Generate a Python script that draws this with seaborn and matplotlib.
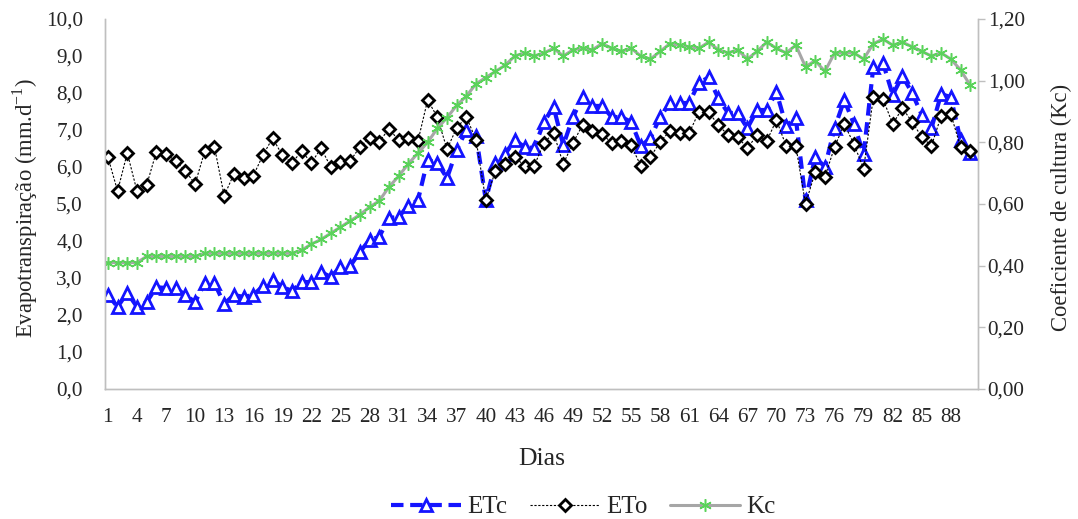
import numpy as np
import pandas as pd
import matplotlib
matplotlib.use("Agg")
import matplotlib.pyplot as plt
import seaborn as sns
from matplotlib.ticker import FuncFormatter

# daily values
dias = list(range(1, 91))

eto = [6.27, 5.35, 6.38, 5.35, 5.51, 6.41, 6.35, 6.16, 5.89, 5.54,
       6.43, 6.54, 5.22, 5.81, 5.70, 5.76, 6.32, 6.78, 6.32, 6.11,
       6.43, 6.11, 6.51, 6.00, 6.14, 6.16, 6.54, 6.78, 6.68, 7.03,
       6.73, 6.78, 6.70, 7.81, 7.35, 6.48, 7.06, 7.35, 6.73, 5.11,
       5.89, 6.08, 6.27, 6.03, 6.03, 6.65, 6.92, 6.08, 6.65, 7.14,
       6.97, 6.89, 6.65, 6.70, 6.59, 6.03, 6.27, 6.68, 6.97, 6.92,
       6.92, 7.49, 7.48, 7.14, 6.86, 6.81, 6.51, 6.86, 6.70, 7.27,
       6.57, 6.57, 5.00, 5.86, 5.73, 6.54, 7.16, 6.62, 5.95, 7.89,
       7.84, 7.16, 7.59, 7.22, 6.81, 6.57, 7.38, 7.43, 6.54, 6.43]

etc = [2.54, 2.22, 2.60, 2.22, 2.35, 2.75, 2.73, 2.73, 2.54, 2.35,
       2.86, 2.86, 2.30, 2.54, 2.49, 2.54, 2.78, 2.95, 2.76, 2.65,
       2.89, 2.89, 3.16, 3.03, 3.30, 3.32, 3.70, 4.03, 4.11, 4.62,
       4.65, 4.95, 5.10, 6.19, 6.11, 5.70, 6.46, 7.00, 6.85, 5.11,
       6.10, 6.35, 6.73, 6.54, 6.51, 7.22, 7.62, 6.59, 7.35, 7.89,
       7.65, 7.65, 7.35, 7.35, 7.22, 6.57, 6.78, 7.35, 7.73, 7.73,
       7.73, 8.28, 8.42, 7.86, 7.46, 7.46, 7.05, 7.54, 7.54, 8.03,
       7.11, 7.32, 5.10, 6.27, 6.00, 7.05, 7.81, 7.16, 6.35, 8.70,
       8.81, 7.95, 8.46, 8.00, 7.41, 7.05, 7.97, 7.89, 6.73, 6.38]

kc = [0.41, 0.41, 0.41, 0.41, 0.43, 0.43, 0.43, 0.43, 0.43, 0.43,
      0.44, 0.44, 0.44, 0.44, 0.44, 0.44, 0.44, 0.44, 0.44, 0.44,
      0.45, 0.47, 0.485, 0.505, 0.525, 0.545, 0.565, 0.59, 0.61, 0.655,
      0.69, 0.73, 0.765, 0.80, 0.845, 0.88, 0.92, 0.95, 0.99, 1.01,
      1.03, 1.05, 1.08, 1.09, 1.08, 1.09, 1.105, 1.08, 1.10, 1.105,
      1.10, 1.12, 1.105, 1.095, 1.105, 1.08, 1.07, 1.095, 1.12, 1.115,
      1.11, 1.105, 1.125, 1.10, 1.09, 1.10, 1.07, 1.095, 1.125, 1.105,
      1.09, 1.115, 1.045, 1.065, 1.03, 1.09, 1.09, 1.09, 1.07, 1.12,
      1.135, 1.115, 1.125, 1.11, 1.095, 1.08, 1.09, 1.07, 1.035, 0.985]

df = pd.DataFrame({"Dias": dias, "ETc": etc, "ETo": eto, "Kc": kc})

sns.set_style("white")
plt.rcParams["font.family"] = ["Liberation Serif", "DejaVu Serif"]
plt.rcParams["mathtext.fontset"] = "custom"
plt.rcParams["mathtext.rm"] = "Liberation Serif"

fig = plt.figure(figsize=(10.78, 5.19), dpi=100)
ax = fig.add_axes([0.0974, 0.2505, 0.8098, 0.7129])
ax2 = ax.twinx()

grey = "#bfbfbf"
green = "#5ad35a"

sns.lineplot(data=df, x="Dias", y="ETc", ax=ax, legend=False, label="ETc",
             color="#1414ff", linestyle=(0, (3, 1.6)), linewidth=3,
             marker="^", markersize=9, markerfacecolor="white",
             markeredgecolor="#1414ff", markeredgewidth=2, zorder=3)
sns.lineplot(data=df, x="Dias", y="ETo", ax=ax, legend=False, label="ETo",
             color="black", linestyle=(0, (2, 1.5)), linewidth=0.8,
             marker="D", markersize=6.5, markerfacecolor="white",
             markeredgecolor="black", markeredgewidth=2, zorder=4)
sns.lineplot(data=df, x="Dias", y="Kc", ax=ax2, legend=False, label="Kc",
             color="#a6a6a6", linewidth=2.2,
             marker=(6, 2, 0), markersize=9, markeredgecolor=green,
             markerfacecolor=green, markeredgewidth=1.1)

ax.set_xlim(0.7, 90.8)
ax.set_ylim(0, 10)
ax2.set_ylim(0, 1.2)

ax.set_yticks(np.arange(0, 10.5, 1.0))
ax.yaxis.set_major_formatter(FuncFormatter(lambda v, p: f"{v:.1f}".replace(".", ",")))
ax2.set_yticks(np.arange(0, 1.21, 0.2))
ax2.yaxis.set_major_formatter(FuncFormatter(lambda v, p: f"{v:.2f}".replace(".", ",")))
ax.set_xticks(dias[::3])
ax.set_xticklabels([str(d) for d in dias[::3]])

ax.tick_params(axis="both", labelsize=15.3, length=0)
ax.tick_params(axis="y", pad=16)
ax.tick_params(axis="x", pad=14)
ax2.tick_params(axis="y", labelsize=15.3, length=5, width=1, color=grey,
                direction="out", pad=2)

for a in (ax, ax2):
    for s in a.spines.values():
        s.set_color(grey)
        s.set_linewidth(1)
    a.spines["top"].set_visible(False)
    a.grid(False)

ax.set_xlabel("Dias", fontsize=18.5)
ax.xaxis.set_label_coords(0.5, -0.159)
ax.set_ylabel("Evapotranspiração (mm.d$^{\\mathregular{-1}}$)", fontsize=16.3)
ax.yaxis.set_label_coords(-0.075, 0.49)
ax2.set_ylabel("Coeficiente de cultura (Kc)", fontsize=16.3)
ax2.yaxis.set_label_coords(1.084, 0.49)

h1, l1 = ax.get_legend_handles_labels()
h2, l2 = ax2.get_legend_handles_labels()
fig.legend(h1 + h2, l1 + l2, loc="center", bbox_to_anchor=(0.541, 0.023),
           ncol=3, frameon=False, fontsize=18, handlelength=2.8,
           columnspacing=0.9, handletextpad=0.25, borderpad=0.1)

fig.savefig("out.png", dpi=100)
